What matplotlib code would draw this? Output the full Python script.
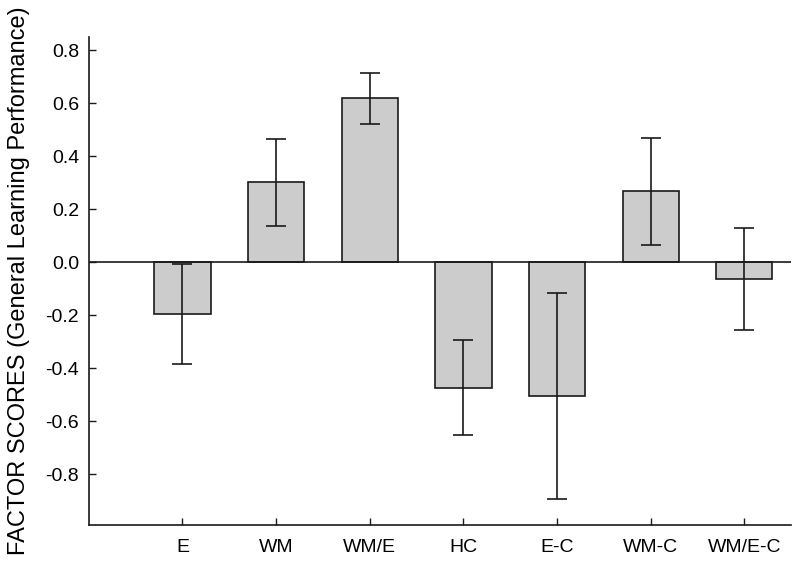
import matplotlib
matplotlib.use("Agg")
import matplotlib.pyplot as plt

categories = ["E", "WM", "WM/E", "HC", "E-C", "WM-C", "WM/E-C"]
scores = [-0.195, 0.302, 0.619, -0.474, -0.505, 0.267, -0.064]
errors = [0.19, 0.165, 0.097, 0.18, 0.39, 0.202, 0.193]
yticks = [-0.8, -0.6, -0.4, -0.2, 0.0, 0.2, 0.4, 0.6, 0.8]

plt.rcParams['font.family'] = ['Liberation Sans', 'DejaVu Sans']
plt.rcParams['axes.unicode_minus'] = False

fig = plt.figure(figsize=(8, 5.62), dpi=100)
ax = fig.add_axes([0.111, 0.066, 0.878, 0.868])

pos = list(range(1, len(categories) + 1))
ax.bar(pos, scores, width=0.6, color="#cccccc", edgecolor="#1a1a1a", linewidth=1.2, zorder=2)
ax.errorbar(pos, scores, yerr=errors, fmt="none", ecolor="#1a1a1a", elinewidth=1.2,
            capsize=7, capthick=1.2, zorder=3)
ax.axhline(0, color="#1a1a1a", linewidth=1.2, zorder=4)

ax.set_xlim(0, 7.5)
ax.set_ylim(-0.992, 0.85)
ax.set_xticks(pos)
ax.set_xticklabels(categories, fontsize=14)
ax.set_yticks(yticks)
ax.set_yticklabels([f"{v:.1f}" for v in yticks], fontsize=14)
ax.tick_params(axis="both", direction="in", length=5, width=1, color="#1a1a1a")
ax.tick_params(axis="y", pad=7)
ax.tick_params(axis="x", pad=10)
for s in ["top", "right"]:
    ax.spines[s].set_visible(False)
for s in ["left", "bottom"]:
    ax.spines[s].set_color("#1a1a1a")
    ax.spines[s].set_linewidth(1.2)
ax.set_ylabel("FACTOR SCORES (General Learning Performance)", fontsize=17, labelpad=11)

fig.savefig("out.png", dpi=100)
